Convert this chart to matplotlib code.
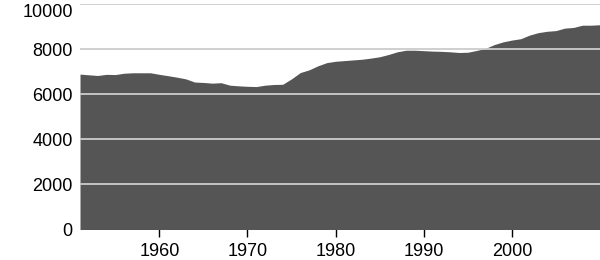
import numpy as np
import matplotlib.pyplot as plt

# yearly values
years = list(range(1951, 2011))
values = [6890, 6860, 6830, 6880, 6870, 6930, 6950, 6950, 6950, 6880,
          6820, 6755, 6680, 6540, 6520, 6490, 6510, 6400, 6370, 6350,
          6338, 6400, 6430, 6440, 6680, 6960, 7080, 7260, 7400, 7460,
          7490, 7520, 7550, 7600, 7660, 7760, 7880, 7950, 7950, 7930,
          7910, 7900, 7880, 7850, 7860, 7940, 8030, 8200, 8320, 8400,
          8460, 8620, 8730, 8790, 8820, 8930, 8960, 9060, 9060, 9080]
x_ticks = [1960, 1970, 1980, 1990, 2000]
y_ticks = [0, 2000, 4000, 6000, 8000, 10000]

plt.rcParams['font.family'] = ['Liberation Sans', 'DejaVu Sans']

fig = plt.figure(figsize=(6, 2.6), dpi=100)
ax = fig.add_axes([80 / 600, 1 - 229.5 / 260, 1 - 80 / 600, (229.5 - 4) / 260])

ax.fill_between(years, values, 0, color='#555555', linewidth=0, zorder=2)

# light grid lines drawn over the area
for t in y_ticks[1:]:
    ax.axhline(t, color='#cccccc', linewidth=1.3, zorder=3)

ax.set_xlim(1951, 2010)
ax.set_ylim(0, 10000)
ax.set_xticks(x_ticks)
ax.set_yticks(y_ticks)

for s in ax.spines.values():
    s.set_visible(False)

ax.tick_params(axis='x', direction='inout', length=10.5, width=1, color='black',
               labelsize=13, pad=4.8)
ax.tick_params(axis='y', length=0, labelsize=13, pad=5.3)
for t in ax.get_xticklines():
    t.set_zorder(4)

# top label sits just under its grid line so it stays inside the figure
ax.get_yticklabels()[-1].set_va('top')

fig.savefig('out.png', dpi=100)
